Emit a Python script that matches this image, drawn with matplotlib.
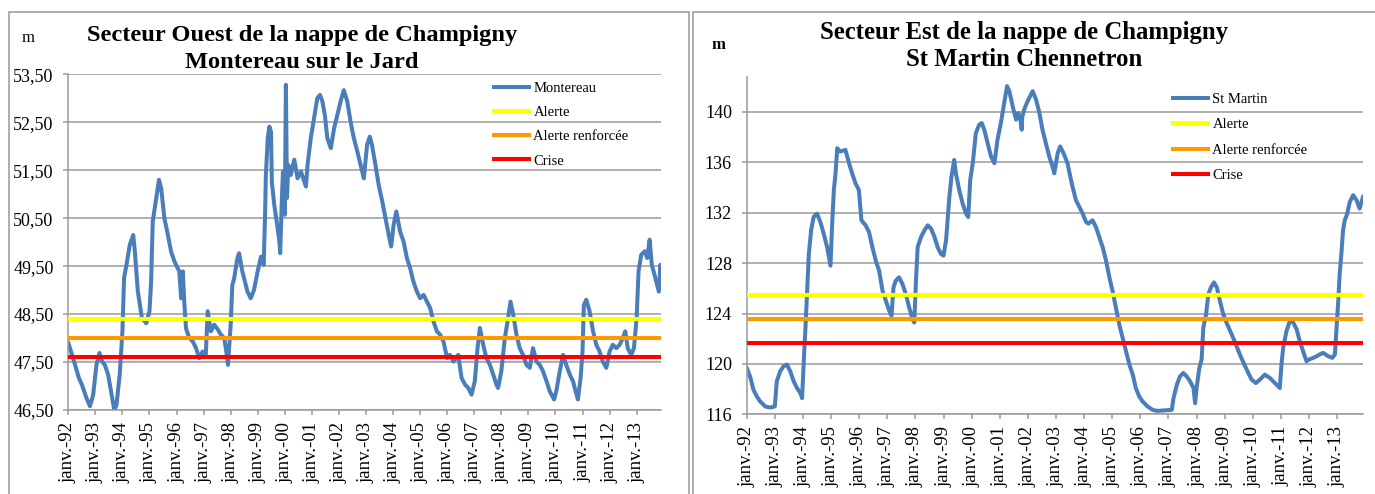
import matplotlib
matplotlib.use("Agg")
import matplotlib.pyplot as plt
from matplotlib.patches import Rectangle

# ---------------- data ----------------
years = list(range(1992, 2014))
xtick_labels = ["janv.-%02d" % (y % 100) for y in years]

# Montereau sur le Jard (m), decimal years
montereau_t = [
    1992.00, 1992.10, 1992.25, 1992.39, 1992.50, 1992.67, 1992.80, 1992.92,
    1993.04, 1993.15, 1993.25, 1993.35, 1993.47, 1993.60, 1993.70, 1993.78, 1993.90,
    1994.00, 1994.06, 1994.15, 1994.27, 1994.40, 1994.46, 1994.57, 1994.72, 1994.88,
    1995.00, 1995.06, 1995.12, 1995.25, 1995.35, 1995.43, 1995.55, 1995.68, 1995.80, 1995.92,
    1996.10, 1996.17, 1996.23, 1996.29, 1996.35, 1996.47, 1996.60, 1996.72, 1996.84, 1996.96,
    1997.08, 1997.15, 1997.27, 1997.39, 1997.50, 1997.64, 1997.76, 1997.82, 1997.90,
    1998.00, 1998.06, 1998.13, 1998.25, 1998.31, 1998.43, 1998.62, 1998.74, 1998.86,
    1999.00, 1999.12, 1999.22, 1999.27, 1999.30, 1999.37, 1999.43, 1999.49, 1999.52,
    1999.61, 1999.70, 1999.80, 1999.83, 1999.88, 1999.93,
    2000.00, 2000.04, 2000.08, 2000.13, 2000.22, 2000.35, 2000.47, 2000.60, 2000.72,
    2000.78, 2000.84, 2000.96,
    2001.08, 2001.20, 2001.30, 2001.39, 2001.48, 2001.57, 2001.70, 2001.82, 2001.94,
    2002.06, 2002.18, 2002.31, 2002.43, 2002.55, 2002.68, 2002.80, 2002.92,
    2003.04, 2003.14, 2003.22, 2003.35, 2003.47, 2003.60, 2003.72, 2003.84, 2003.93,
    2004.02, 2004.12, 2004.26, 2004.39, 2004.51, 2004.63, 2004.75, 2004.88,
    2005.00, 2005.13, 2005.25, 2005.37, 2005.49, 2005.62, 2005.74, 2005.86,
    2006.00, 2006.10, 2006.23, 2006.41, 2006.53, 2006.66, 2006.78, 2006.90,
    2007.02, 2007.12, 2007.21, 2007.33, 2007.45, 2007.58, 2007.70, 2007.82, 2007.88,
    2008.00, 2008.13, 2008.25, 2008.34, 2008.44, 2008.56, 2008.68, 2008.80, 2008.93,
    2009.05, 2009.17, 2009.30, 2009.42, 2009.54, 2009.67, 2009.79, 2009.95,
    2010.03, 2010.16, 2010.28, 2010.40, 2010.53, 2010.65, 2010.73, 2010.83, 2010.93,
    2011.00, 2011.05, 2011.14, 2011.26, 2011.39, 2011.51, 2011.63, 2011.75, 2011.88,
    2012.00, 2012.12, 2012.25, 2012.37, 2012.49, 2012.58, 2012.67, 2012.80, 2012.90,
    2013.00, 2013.07, 2013.17, 2013.30, 2013.39, 2013.48, 2013.56, 2013.66, 2013.76,
    2013.82, 2013.88, 2013.90,
]
montereau_v = [
    47.90, 47.72, 47.44, 47.17, 47.03, 46.75, 46.58, 46.82,
    47.44, 47.69, 47.51, 47.44, 47.24, 46.82, 46.50, 46.60, 47.24,
    48.14, 49.25, 49.53, 49.94, 50.15, 49.80, 48.97, 48.42, 48.31,
    48.56, 49.18, 50.43, 50.92, 51.30, 51.13, 50.50, 50.15, 49.80, 49.60,
    49.39, 48.83, 49.39, 48.70, 48.20, 48.00, 47.93, 47.79, 47.58, 47.72,
    47.65, 48.56, 48.14, 48.28, 48.20, 48.07, 48.00, 47.79, 47.44,
    48.28, 49.10, 49.25, 49.67, 49.77, 49.39, 48.97, 48.83, 49.00,
    49.40, 49.70, 49.53, 50.57, 51.40, 52.17, 52.41, 52.30, 51.26,
    50.78, 50.43, 50.01, 49.77, 50.71, 51.47,
    50.57, 53.28, 50.92, 51.61, 51.40, 51.72, 51.33, 51.47, 51.26,
    51.16, 51.61, 52.17,
    52.58, 53.00, 53.07, 52.93, 52.65, 52.17, 51.96, 52.37, 52.65,
    52.93, 53.17, 52.93, 52.51, 52.17, 51.89, 51.61, 51.33,
    52.03, 52.20, 52.03, 51.61, 51.19, 50.85, 50.50, 50.15, 49.91,
    50.36, 50.64, 50.22, 50.01, 49.67, 49.46, 49.18, 48.97,
    48.83, 48.90, 48.76, 48.63, 48.35, 48.14, 48.07, 47.93,
    47.58, 47.65, 47.51, 47.65, 47.17, 47.03, 46.96, 46.82,
    47.10, 47.79, 48.21, 47.86, 47.58, 47.44, 47.24, 47.03, 46.96,
    47.31, 48.00, 48.42, 48.76, 48.49, 48.07, 47.79, 47.65, 47.44,
    47.38, 47.79, 47.51, 47.44, 47.31, 47.10, 46.89, 46.72,
    46.89, 47.31, 47.65, 47.44, 47.24, 47.10, 46.92, 46.72, 47.17,
    47.72, 48.69, 48.80, 48.56, 48.14, 47.86, 47.72, 47.51, 47.38,
    47.72, 47.86, 47.79, 47.86, 48.00, 48.14, 47.79, 47.65, 47.79,
    48.42, 49.39, 49.74, 49.81, 49.67, 50.05, 49.53, 49.32, 49.10,
    48.97, 49.53, 49.39,
]

# St Martin Chennetron (m), decimal years
stmartin_t = [
    1992.00, 1992.12, 1992.24, 1992.36, 1992.48, 1992.66, 1992.83,
    1993.00, 1993.07, 1993.19, 1993.31, 1993.43, 1993.55, 1993.67, 1993.79, 1993.91, 1993.97,
    1994.03, 1994.09, 1994.15, 1994.21, 1994.29, 1994.38, 1994.50, 1994.62, 1994.74, 1994.86, 1994.98,
    1995.04, 1995.10, 1995.16, 1995.22, 1995.33, 1995.51, 1995.64, 1995.75, 1995.87, 1995.99,
    1996.08, 1996.23, 1996.35, 1996.47, 1996.59, 1996.71, 1996.77, 1996.83, 1996.95,
    1997.07, 1997.15, 1997.22, 1997.30, 1997.42, 1997.54, 1997.66, 1997.78, 1997.90, 1997.96,
    1998.02, 1998.08, 1998.20, 1998.32, 1998.44, 1998.56, 1998.68, 1998.79, 1998.91,
    1999.00, 1999.09, 1999.15, 1999.21, 1999.28, 1999.38, 1999.44, 1999.56, 1999.68, 1999.80,
    1999.88, 1999.95,
    2000.04, 2000.15, 2000.27, 2000.36, 2000.45, 2000.57, 2000.69, 2000.81, 2000.92,
    2001.04, 2001.16, 2001.26, 2001.34, 2001.46, 2001.58, 2001.66, 2001.74, 2001.78, 2001.80,
    2001.87, 2001.99,
    2002.11, 2002.17, 2002.29, 2002.41, 2002.52, 2002.64, 2002.76, 2002.88, 2002.94,
    2003.06, 2003.15, 2003.27, 2003.41, 2003.51, 2003.59, 2003.71, 2003.83, 2003.95,
    2004.07, 2004.15, 2004.30, 2004.42, 2004.54, 2004.66, 2004.78, 2004.90,
    2005.01, 2005.13, 2005.25, 2005.37, 2005.49, 2005.61, 2005.73, 2005.84, 2005.96,
    2006.08, 2006.26, 2006.44, 2006.61, 2006.82,
    2007.12, 2007.18, 2007.30, 2007.41, 2007.53, 2007.65, 2007.77, 2007.89, 2007.95,
    2008.00, 2008.10, 2008.18, 2008.24, 2008.34, 2008.42, 2008.51, 2008.62, 2008.72, 2008.83, 2008.95,
    2009.09, 2009.25, 2009.40, 2009.54, 2009.70, 2009.84, 2009.96,
    2010.11, 2010.25, 2010.43, 2010.61, 2010.79, 2010.96,
    2011.02, 2011.08, 2011.20, 2011.32, 2011.44, 2011.56, 2011.67, 2011.79, 2011.91,
    2012.00, 2012.15, 2012.27, 2012.38, 2012.50, 2012.68, 2012.83, 2012.92, 2012.98,
    2013.04, 2013.09, 2013.15, 2013.21, 2013.27, 2013.36, 2013.45, 2013.57, 2013.69,
    2013.80, 2013.92,
]
stmartin_v = [
    119.68, 119.00, 117.95, 117.42, 117.02, 116.62, 116.54,
    116.62, 118.62, 119.41, 119.81, 119.95, 119.41, 118.62, 118.08, 117.68, 117.28,
    120.21, 122.88, 125.81, 128.73, 130.60, 131.66, 131.93, 131.27, 130.33, 129.27, 127.80,
    131.13, 133.80, 135.13, 137.12, 136.86, 136.99, 135.93, 135.13, 134.33, 133.80,
    131.40, 131.00, 130.47, 129.27, 128.20, 127.40, 126.60, 125.81, 125.01,
    124.21, 123.81, 126.07, 126.60, 126.87, 126.34, 125.54, 124.47, 123.54, 123.28,
    126.60, 129.27, 130.07, 130.60, 131.00, 130.73, 130.07, 129.27, 128.73,
    128.60, 129.80, 131.50, 133.30, 134.80, 136.19, 135.13, 133.80, 132.73, 131.93,
    131.66, 134.60,
    135.93, 138.32, 138.99, 139.12, 138.59, 137.52, 136.46, 135.93, 137.79,
    139.12, 140.72, 142.05, 141.65, 140.45, 139.39, 139.92, 139.30, 138.59, 139.60,
    140.19, 140.85,
    141.38, 141.65, 140.99, 139.92, 138.59, 137.52, 136.46, 135.66, 135.13,
    136.72, 137.26, 136.72, 135.93, 134.86, 134.06, 133.00, 132.46, 131.93,
    131.27, 131.13, 131.40, 130.87, 130.07, 129.27, 128.20, 126.87,
    125.81, 124.47, 123.14, 122.08, 121.01, 119.95, 119.15, 118.08, 117.42,
    117.02, 116.62, 116.35, 116.27, 116.30,
    116.35, 117.28, 118.35, 119.01, 119.28, 119.01, 118.62, 118.08, 116.88,
    118.08, 119.68, 120.35, 122.88, 123.94, 125.54, 126.07, 126.47, 126.07, 125.01, 123.94,
    123.14, 122.34, 121.54, 120.75, 119.95, 119.28, 118.75,
    118.48, 118.75, 119.15, 118.88, 118.48, 118.08,
    119.95, 121.28, 122.61, 123.41, 123.28, 122.74, 121.81, 121.01, 120.21,
    120.35, 120.48, 120.61, 120.75, 120.88, 120.61, 120.48, 120.75, 122.88,
    125.01, 127.14, 128.73, 130.60, 131.40, 131.93, 132.86, 133.39, 133.00,
    132.33, 133.26,
]

threshold_names = ["Alerte", "Alerte renforcée", "Crise"]
montereau_thresholds = [48.40, 48.00, 47.60]
stmartin_thresholds = [125.50, 123.55, 121.65]

montereau_yticks = [46.5, 47.5, 48.5, 49.5, 50.5, 51.5, 52.5, 53.5]
montereau_ytick_labels = ["46,50", "47,50", "48,50", "49,50", "50,50", "51,50", "52,50", "53,50"]
stmartin_yticks = [116, 120, 124, 128, 132, 136, 140]
stmartin_ytick_labels = ["116", "120", "124", "128", "132", "136", "140"]

left_title = ["Secteur Ouest de la nappe de Champigny", "Montereau sur le Jard"]
right_title = ["Secteur Est de la nappe de Champigny", "St Martin Chennetron"]

# ---------------- style ----------------
W, H = 1375, 494
plt.rcParams["font.family"] = ["Liberation Serif", "DejaVu Serif"]
fig = plt.figure(figsize=(W / 100, H / 100), dpi=100)
fig.patch.set_facecolor("white")

BLUE = "#4A7EBB"
TH_COLORS = ["#FFFF00", "#FF9900", "#FF0000"]
GRID = "#9A9A9A"
LW = 2.9


def px(x0, y0, x1, y1):
    """pixel box (left, top, right, bottom) -> figure fraction rect"""
    return [x0 / W, 1 - y1 / H, (x1 - x0) / W, (y1 - y0) / H]


# panel borders
fig.add_artist(Rectangle((9 / W, -0.05), (689 - 9) / W, 1 - 11.7 / H + 0.05,
                         transform=fig.transFigure, fill=False,
                         edgecolor="#A0A0A0", lw=1.2))
fig.add_artist(Rectangle((692.7 / W, -0.05), 0.6, 1 - 11.7 / H + 0.05,
                         transform=fig.transFigure, fill=False,
                         edgecolor="#A0A0A0", lw=1.2))


def style_axes(ax, yticks, ylabels, ylim, xlim):
    ax.set_xlim(*xlim)
    ax.set_ylim(*ylim)
    ax.set_yticks(yticks)
    ax.set_yticklabels(ylabels)
    ax.set_xticks(years)
    ax.set_xticklabels(xtick_labels, rotation=90)
    ax.grid(axis="y", color=GRID, lw=1.1)
    ax.set_axisbelow(True)
    for s in ("top", "right"):
        ax.spines[s].set_visible(False)
    for s in ("left", "bottom"):
        ax.spines[s].set_color(GRID)
        ax.spines[s].set_linewidth(1.1)
    ax.tick_params(axis="both", direction="out", length=3.6, width=1.1, color=GRID)
    ax.tick_params(axis="y", pad=7, labelsize=13)
    ax.tick_params(axis="x", pad=5, labelsize=13.5)
    ax.set_facecolor("none")


def add_legend(ax, x, y, spacing):
    ax.legend(loc="upper left", bbox_to_anchor=(x / W, 1 - y / H),
              bbox_transform=fig.transFigure, frameon=False, fontsize=10.5,
              handlelength=2.4, handletextpad=0.3, labelspacing=spacing,
              borderpad=0, borderaxespad=0)


# ---------------- left panel ----------------
ax1 = fig.add_axes(px(68.3, 74.3, 661, 410))
ax1.plot(montereau_t, montereau_v, color=BLUE, lw=LW, label="Montereau", zorder=2,
         solid_joinstyle="round")
for name, val, col in zip(threshold_names, montereau_thresholds, TH_COLORS):
    ax1.axhline(val, color=col, lw=LW, label=name, zorder=3)
style_axes(ax1, montereau_yticks, montereau_ytick_labels, (46.5, 53.5), (1992.0, 2013.9))
add_legend(ax1, 494, 81.5, 0.76)

fig.text(302 / W, 1 - 35 / H, left_title[0], ha="center", va="center",
         fontsize=17.6, fontweight="bold")
fig.text(302 / W, 1 - 62 / H, left_title[1], ha="center", va="center",
         fontsize=17.6, fontweight="bold")
fig.text(28 / W, 1 - 38 / H, "m", ha="center", va="center", fontsize=12)

# ---------------- right panel ----------------
ax2 = fig.add_axes(px(746.7, 77.3, 1363, 414.3))
ax2.plot(stmartin_t, stmartin_v, color=BLUE, lw=LW, label="St Martin", zorder=2,
         solid_joinstyle="round")
for name, val, col in zip(threshold_names, stmartin_thresholds, TH_COLORS):
    ax2.axhline(val, color=col, lw=LW, label=name, zorder=3)
style_axes(ax2, stmartin_yticks, stmartin_ytick_labels, (116, 142.75), (1992.0, 2013.92))
add_legend(ax2, 1173, 92.5, 0.84)

fig.text(1024 / W, 1 - 32 / H, right_title[0], ha="center", va="center",
         fontsize=17.8, fontweight="bold")
fig.text(1024 / W, 1 - 60 / H, right_title[1], ha="center", va="center",
         fontsize=17.8, fontweight="bold")
fig.text(718 / W, 1 - 45 / H, "m", ha="center", va="center", fontsize=12, fontweight="bold")

fig.savefig("out.png", dpi=100, facecolor="white")
